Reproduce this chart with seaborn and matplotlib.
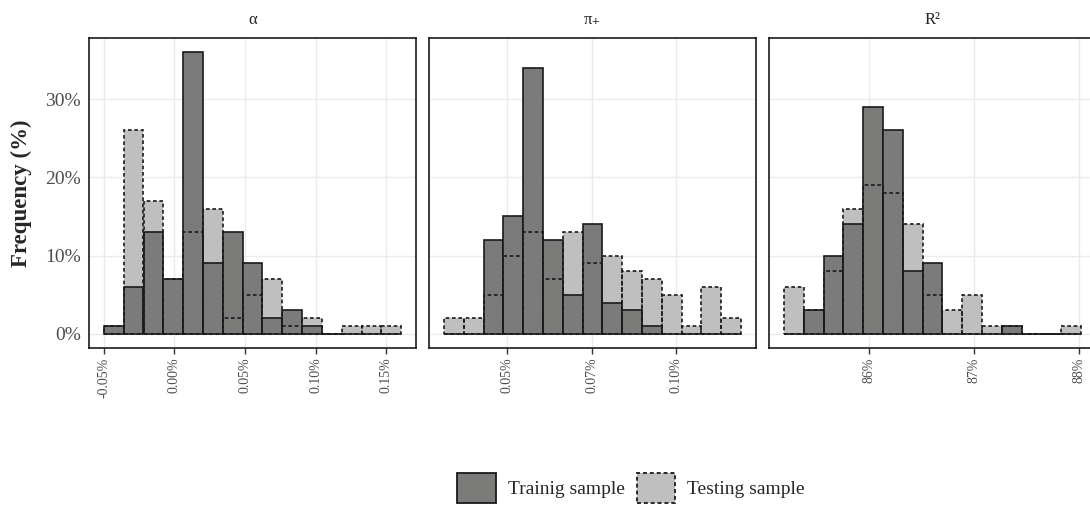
import numpy as np
import pandas as pd
import matplotlib
matplotlib.use("Agg")
import matplotlib.pyplot as plt
import seaborn as sns
from matplotlib.patches import Patch

sns.set_style("white")
plt.rcParams['font.family'] = ['Liberation Serif', 'DejaVu Serif']

# ---------------- data (percent of sample per bin) ----------------
panel_titles = ["α", "π₊", "R²"]

# bin layout of each histogram: first bin edge (%), bin width (%), 15 bins
alpha_bin_start, alpha_bin_width = -0.0500, 0.01404
pi_bin_start, pi_bin_width = 0.03135, 0.005855
r2_bin_start, r2_bin_width = 85.188, 0.1887

alpha_train = [1, 6, 13, 7, 36, 9, 13, 9, 2, 3, 1, 0, 0, 0, 0]
alpha_test = [1, 26, 17, 7, 13, 16, 2, 5, 7, 1, 2, 0, 1, 1, 1]

pi_train = [0, 0, 12, 15, 34, 12, 5, 14, 4, 3, 1, 0, 0, 0, 0]
pi_test = [2, 2, 5, 10, 13, 7, 13, 9, 10, 8, 7, 5, 1, 6, 2]

r2_train = [0, 3, 10, 14, 29, 26, 8, 9, 0, 0, 0, 1, 0, 0, 0]
r2_test = [6, 3, 8, 16, 19, 18, 14, 5, 3, 5, 1, 1, 0, 0, 1]

alpha_ticks = [-0.05, 0.00, 0.05, 0.10, 0.15]
alpha_ticklabels = ["-0.05%", "0.00%", "0.05%", "0.10%", "0.15%"]
pi_ticks = [0.05, 0.075, 0.10]
pi_ticklabels = ["0.05%", "0.07%", "0.10%"]
r2_ticks = [86, 87, 88]
r2_ticklabels = ["86%", "87%", "88%"]

y_ticks = [0, 10, 20, 30]
y_ticklabels = ["0%", "10%", "20%", "30%"]

series_names = ["Trainig sample", "Testing sample"]

# ---------------- styling ----------------
train_color = "#7b7c7a"
test_color = "#bfbfbf"
tick_color = "#4d4d4d"
grid_color = "#ebebeb"
dash = (0, (2.2, 1.6))

panels = [
    (alpha_bin_start, alpha_bin_width, alpha_train, alpha_test, alpha_ticks, alpha_ticklabels),
    (pi_bin_start, pi_bin_width, pi_train, pi_test, pi_ticks, pi_ticklabels),
    (r2_bin_start, r2_bin_width, r2_train, r2_test, r2_ticks, r2_ticklabels),
]

W, H = 1090, 509
fig = plt.figure(figsize=(W / 100, H / 100), dpi=100)

lefts = [89, 429, 769]
pw = 327
top_px, bot_px = 38, 348

ymax = max(max(alpha_train), max(alpha_test), max(pi_train), max(pi_test),
           max(r2_train), max(r2_test))

for i, (start, width, train, test, ticks, ticklabels) in enumerate(panels):
    ax = fig.add_axes([lefts[i] / W, 1 - bot_px / H, pw / W, (bot_px - top_px) / H])
    n = len(train)
    lo, hi = start, start + width * n
    centers = start + width * (np.arange(n) + 0.5)
    df = pd.DataFrame({"x": centers, "train": train, "test": test})

    ax.set_axisbelow(True)
    ax.grid(True, color=grid_color, linewidth=1.0)

    # testing fill
    sns.histplot(data=df, x="x", weights="test", bins=n, binrange=(lo, hi), ax=ax,
                 color=test_color, alpha=1, edgecolor="none", linewidth=0)
    # training bars with solid outline
    sns.histplot(data=df, x="x", weights="train", bins=n, binrange=(lo, hi), ax=ax,
                 color=train_color, alpha=1, edgecolor="#1a1a1a", linewidth=1.2)
    # testing dashed outline on top
    sns.histplot(data=df, x="x", weights="test", bins=n, binrange=(lo, hi), ax=ax,
                 fill=False, color="#1a1a1a", linewidth=1.2, linestyle=dash)

    rng = hi - lo
    ax.set_xlim(lo - 0.05 * rng, hi + 0.05 * rng)
    ax.set_ylim(-0.05 * ymax, ymax * 1.05)
    ax.set_xticks(ticks)
    ax.set_xticklabels(ticklabels, rotation=90, fontsize=10, color=tick_color)
    ax.set_yticks(y_ticks)
    if i == 0:
        ax.set_yticklabels(y_ticklabels, fontsize=14, color=tick_color)
        ax.tick_params(axis="y", length=4, width=1.0, color="#333333", pad=2)
    else:
        ax.set_yticklabels([])
        ax.tick_params(axis="y", length=0)
    ax.tick_params(axis="x", length=4, width=1.0, color="#333333", pad=3,
                   bottom=True)
    ax.set_xlabel("")
    ax.set_ylabel("")
    for s in ax.spines.values():
        s.set_visible(True)
        s.set_color("#1a1a1a")
        s.set_linewidth(1.2)
    ax.set_title(panel_titles[i], fontsize=12, pad=10)

fig.text(21 / W, 1 - 193 / H, "Frequency (%)", rotation=90, ha="center",
         va="center", fontsize=16.5, fontweight="bold")

handles = [
    Patch(facecolor=train_color, edgecolor="#1a1a1a", linewidth=1.3),
    Patch(facecolor=test_color, edgecolor="#1a1a1a", linewidth=1.3, linestyle=dash),
]
fig.legend(handles, series_names, loc="center", bbox_to_anchor=(631 / W, 1 - 488 / H),
           ncol=2, frameon=False, fontsize=14, handlelength=2.0, handleheight=2.0,
           handletextpad=0.6, columnspacing=0.6)

fig.savefig("out.png", dpi=100)
